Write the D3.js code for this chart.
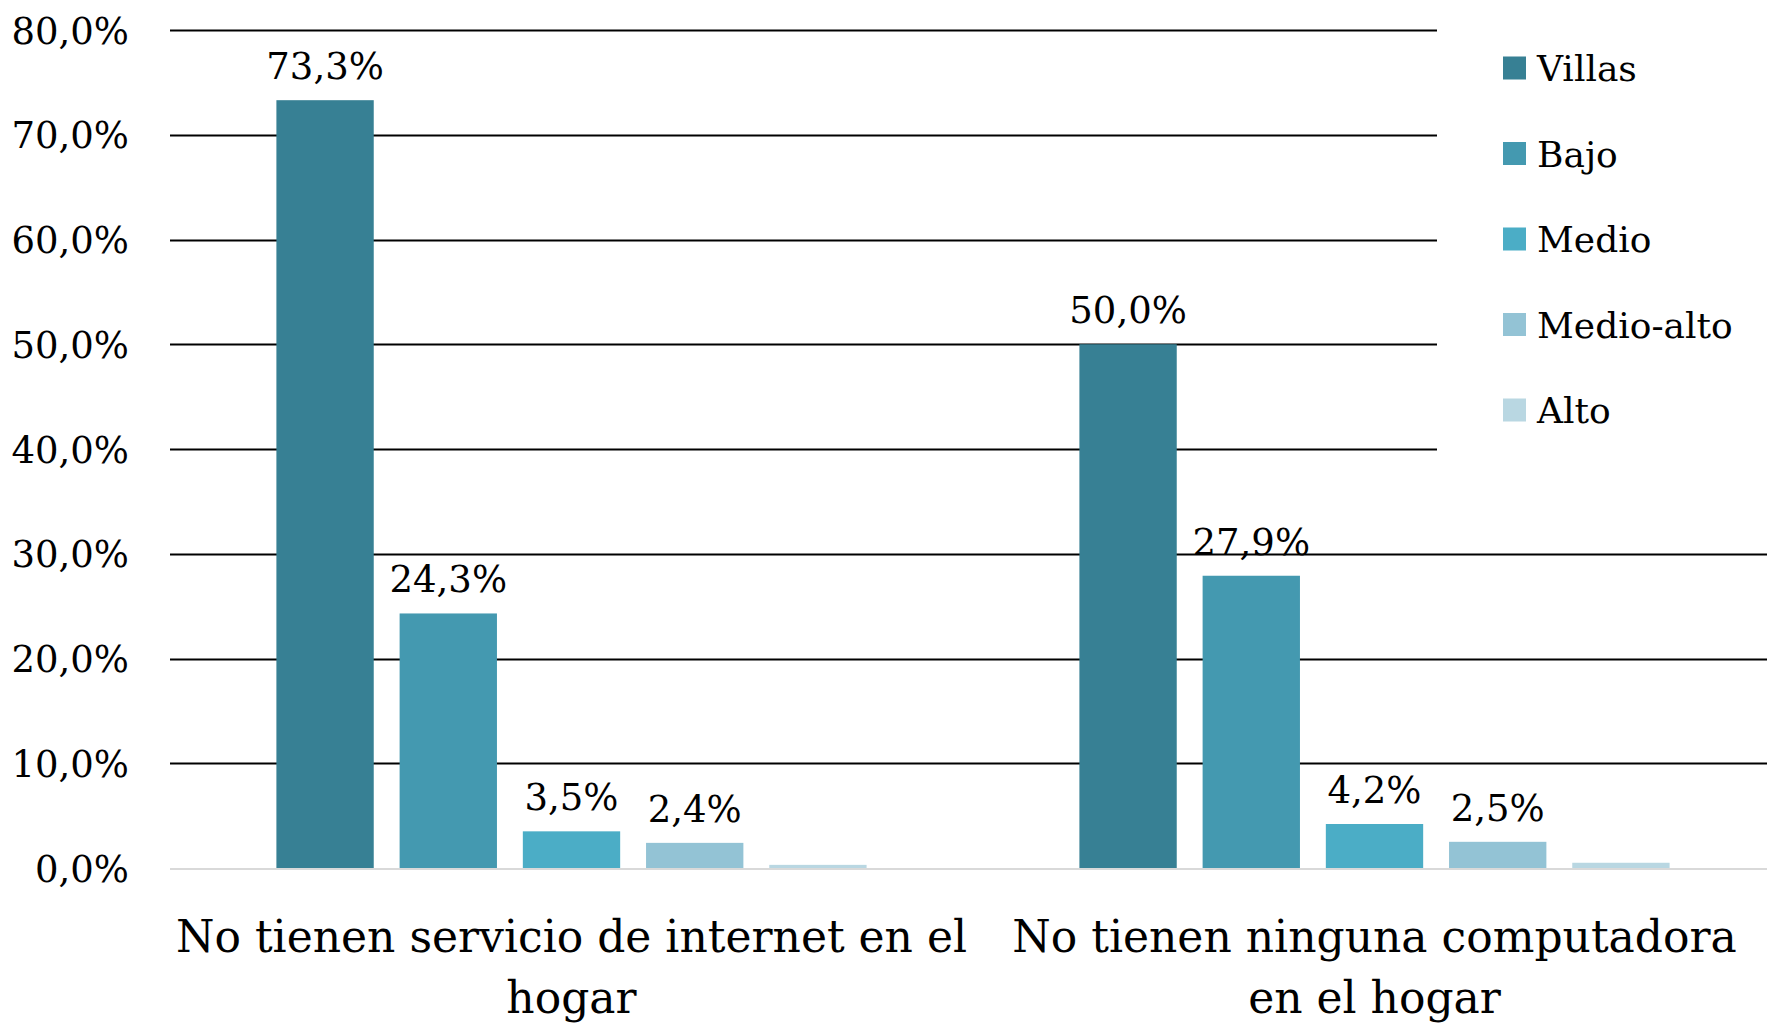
<!DOCTYPE html>
<html>
<head>
<meta charset="utf-8">
<script src="https://cdn.jsdelivr.net/npm/d3@7"></script>
<style>
  html, body { margin: 0; padding: 0; background: #fff; }
  svg { display: block; }
  text { font-family: "DejaVu Serif", "Liberation Serif", serif; fill: #000; }
</style>
</head>
<body>
<svg id="chart" width="1767" height="1026"></svg>
<script>
// ---- data ----
const categories = ["No tienen servicio de internet en el hogar", "No tienen ninguna computadora en el hogar"];
const categoryLines = [["No tienen servicio de internet en el", "hogar"], ["No tienen ninguna computadora", "en el hogar"]];
const seriesNames = ["Villas", "Bajo", "Medio", "Medio-alto", "Alto"];
const villas    = [73.3, 50.0];
const bajo      = [24.3, 27.9];
const medio     = [3.5, 4.2];
const medioAlto = [2.4, 2.5];
const alto      = [0.3, 0.5];
const showLabel = [true, true, true, true, false];
const yTicks = [0, 10, 20, 30, 40, 50, 60, 70, 80];
const colors = ["#378094", "#4499b0", "#4badc6", "#93c3d5", "#b9d7e2"];

const seriesValues = [villas, bajo, medio, medioAlto, alto];

// ---- layout ----
const svg = d3.select("#chart");
const W = 1767, H = 1026;
const plotLeft = 170, plotRight = 1776, plotTop = 30, plotBottom = 868;

const y = d3.scaleLinear().domain([0, 80]).range([plotBottom, plotTop]);
const x0 = d3.scaleBand().domain(categories).range([plotLeft, plotRight]).paddingInner(0.265).paddingOuter(0.1325);
const x1 = d3.scaleBand().domain(seriesNames).range([0, x0.bandwidth()]).paddingInner(0.21).paddingOuter(0);

const fmt = v => d3.format(".1f")(v).replace(".", ",") + "%";

// gridlines
svg.append("g").selectAll("line").data(yTicks.filter(t => t > 0)).join("line")
  .attr("x1", plotLeft).attr("x2", W)
  .attr("y1", d => Math.round(y(d)) + 0.5).attr("y2", d => Math.round(y(d)) + 0.5)
  .attr("stroke", "#000").attr("stroke-width", 2);

// y tick labels
svg.append("g").selectAll("text").data(yTicks).join("text")
  .attr("x", 129).attr("y", d => y(d)).attr("dy", "0.37em")
  .attr("text-anchor", "end")
  .style("font-size", "37px")
  .text(d => d3.format(".1f")(d).replace(".", ",") + "%");

// bars
const groups = svg.append("g").selectAll("g").data(categories).join("g")
  .attr("transform", d => `translate(${x0(d)},0)`);

groups.each(function(cat, ci) {
  const g = d3.select(this);
  const rows = seriesNames.map((s, si) => ({ s, si, v: seriesValues[si][ci] }));
  g.selectAll("rect").data(rows).join("rect")
    .attr("x", d => x1(d.s)).attr("width", x1.bandwidth())
    .attr("y", d => y(d.v)).attr("height", d => y(0) - y(d.v))
    .attr("fill", d => colors[d.si]);
  g.selectAll("text").data(rows.filter(d => showLabel[d.si])).join("text")
    .attr("x", d => x1(d.s) + x1.bandwidth() / 2)
    .attr("y", d => y(d.v) - 21)
    .attr("text-anchor", "middle")
    .style("font-size", "37px")
    .text(d => fmt(d.v));
});

// baseline axis
svg.append("line")
  .attr("x1", plotLeft).attr("x2", W)
  .attr("y1", y(0) + 1).attr("y2", y(0) + 1)
  .attr("stroke", "#d9d9d9").attr("stroke-width", 2);

// category labels
categories.forEach((cat, ci) => {
  const cx = x0(cat) + x0.bandwidth() / 2;
  const t = svg.append("text").attr("text-anchor", "middle").style("font-size", "44px");
  categoryLines[ci].forEach((line, li) => {
    t.append("tspan").attr("x", cx).attr("y", 952 + li * 61).text(line);
  });
});

// legend
const legend = svg.append("g");
legend.append("rect").attr("x", 1437).attr("y", 0).attr("width", W - 1437).attr("height", 470).attr("fill", "#fff");
const ly = d3.scalePoint().domain(seriesNames).range([68, 410]);
seriesNames.forEach((s, si) => {
  legend.append("rect").attr("x", 1503).attr("y", ly(s) - 11.5).attr("width", 23).attr("height", 23).attr("fill", colors[si]);
  legend.append("text").attr("x", 1537).attr("y", ly(s) + 13).style("font-size", "36px").text(s);
});
</script>
</body>
</html>
